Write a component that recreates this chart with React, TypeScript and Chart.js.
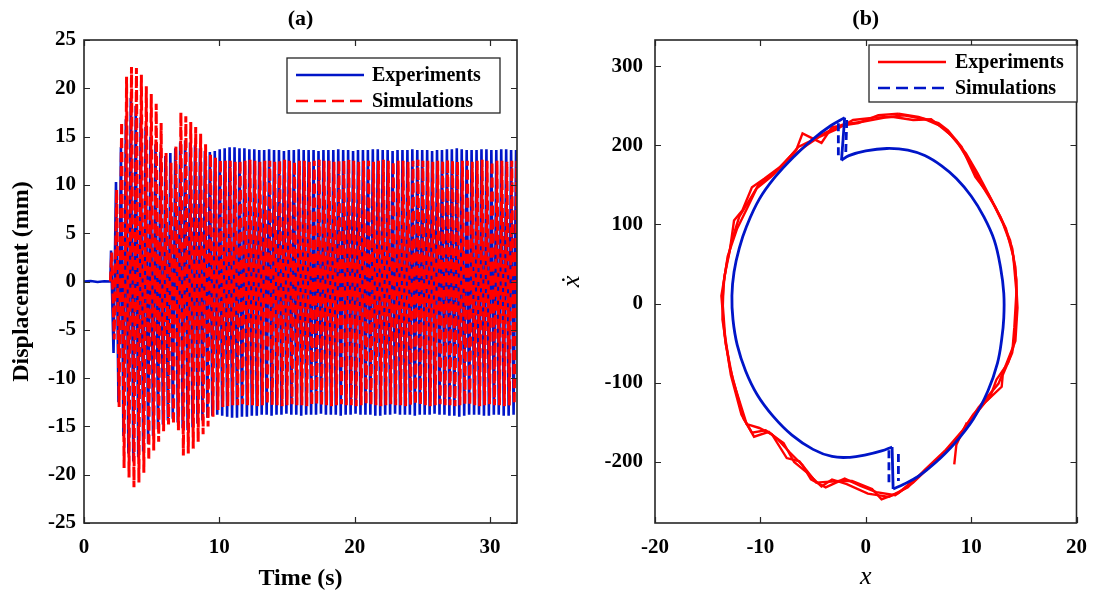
import React, { useEffect, useRef } from "react";
import { Chart, registerables } from "chart.js";
Chart.register(...registerables);

const FONT = '"Liberation Serif", "Times New Roman", serif';

// ---------- Panel (a): displacement vs time ----------
const PERIOD = 0.365; // s, oscillation period
const BLUE_START = 2.0;
const RED_START = 2.05;
const leadTimes = [0, 0.5, 1.0, 1.5, 1.95];
const blueLead = [0.0, 0.05, -0.05, 0.02, 0.0];

// peak (max) and trough (min) of each cycle, experiments (blue)
const blueMax = [3.2, 10.3, 13.9, 16.8, 19.0, 18.2, 17.0, 16.0, 15.0, 14.2,
  13.4, 13.0, 13.3, 13.8, 14.4, 14.6, 14.4, 14.1, 13.8, 13.5,
  13.4, 13.5, 13.7, 13.8, 13.9, 13.9, 13.8, 13.8, 13.7, 13.7,
  13.6, 13.6, 13.7, 13.6, 13.6, 13.5, 13.6, 13.6, 13.7, 13.6,
  13.6, 13.6, 13.5, 13.6, 13.6, 13.6, 13.7, 13.6, 13.6, 13.5,
  13.6, 13.6, 13.6, 13.7, 13.7, 13.6, 13.6, 13.5, 13.6, 13.6,
  13.6, 13.7, 13.6, 13.6, 13.6, 13.5, 13.6, 13.6, 13.7, 13.7,
  13.8, 13.7, 13.6, 13.6, 13.6, 13.7, 13.7, 13.6, 13.6, 13.7,
  13.7, 13.6, 13.6];
const blueMin = [-7.4, -12.5, -16.0, -17.8, -18.6, -18.2, -17.6, -16.8, -16.0, -15.3,
  -14.8, -14.4, -14.2, -14.6, -15.2, -15.4, -15.1, -14.7, -14.4, -14.1,
  -13.9, -13.8, -13.9, -14.0, -14.1, -14.1, -14.0, -14.0, -13.9, -13.9,
  -13.8, -13.8, -13.9, -13.8, -13.8, -13.7, -13.8, -13.8, -13.9, -13.8,
  -13.8, -13.8, -13.7, -13.8, -13.8, -13.8, -13.9, -13.8, -13.8, -13.7,
  -13.8, -13.8, -13.8, -13.9, -13.9, -13.8, -13.8, -13.7, -13.8, -13.8,
  -13.8, -13.9, -13.8, -13.8, -13.8, -13.7, -13.8, -13.8, -13.9, -13.9,
  -14.0, -13.9, -13.8, -13.8, -13.8, -13.9, -13.9, -13.8, -13.8, -13.9,
  -13.9, -13.8, -13.8];
// simulations (red)
const redMax = [3.0, 9.5, 16.5, 21.2, 22.2, 22.1, 21.4, 20.2, 19.4, 18.4,
  16.4, 13.3, 12.3, 14.0, 17.5, 17.1, 16.5, 16.0, 15.3, 14.2,
  13.2, 12.8, 12.6, 12.5, 12.5, 12.4, 12.5, 12.5, 12.6, 12.5,
  12.4, 12.5, 12.5, 12.4, 12.5, 12.6, 12.5, 12.4, 12.5, 12.5,
  12.4, 12.5, 12.6, 12.5, 12.5, 12.4, 12.5, 12.5, 12.6, 12.5,
  12.4, 12.5, 12.5, 12.4, 12.5, 12.6, 12.5, 12.4, 12.5, 12.5,
  12.4, 12.5, 12.6, 12.5, 12.5, 12.4, 12.5, 12.5, 12.6, 12.5,
  12.4, 12.5, 12.5, 12.4, 12.5, 12.6, 12.5, 12.4, 12.5, 12.5,
  12.4, 12.5, 12.5];
const redMin = [-6.0, -13.0, -19.3, -20.3, -21.3, -20.8, -19.8, -18.5, -17.5, -16.6,
  -15.5, -14.8, -14.8, -15.4, -18.0, -17.8, -17.3, -16.6, -15.8, -15.0,
  -14.0, -13.3, -13.0, -12.9, -12.8, -12.8, -12.7, -12.8, -12.8, -12.9,
  -12.8, -12.7, -12.8, -12.8, -12.9, -12.8, -12.7, -12.8, -12.8, -12.9,
  -12.8, -12.7, -12.8, -12.8, -12.9, -12.8, -12.7, -12.8, -12.8, -12.9,
  -12.8, -12.7, -12.8, -12.8, -12.9, -12.8, -12.7, -12.8, -12.8, -12.9,
  -12.8, -12.7, -12.8, -12.8, -12.9, -12.8, -12.7, -12.8, -12.8, -12.9,
  -12.8, -12.7, -12.8, -12.8, -12.9, -12.8, -12.7, -12.8, -12.8, -12.9,
  -12.8, -12.7, -12.8];

const yTicksA = [-25, -20, -15, -10, -5, 0, 5, 10, 15, 20, 25];
const xTicksA = [0, 10, 20, 30];
const xTicksB = [-20, -10, 0, 10, 20];
const yTicksB = [-200, -100, 0, 100, 200, 300];

// ---------- Panel (b): phase portrait ----------
// simulated limit cycle, split at the two velocity jumps
const simArcA: [number, number][] = [
  [-2.3, 181], [-1.6, 187], [0.0, 193], [2.0, 196], [4.0, 194], [5.6, 187],
  [7.2, 174], [8.6, 158], [10.0, 136], [11.2, 110], [12.2, 80], [12.8, 45], [13.1, 13],
  [13.1, -18], [12.9, -45], [12.5, -75], [11.6, -110], [10.2, -146], [8.4, -177],
  [6.6, -201], [5.0, -218], [3.6, -228], [2.6, -234],
];
const simJumpBottom: [number, number][] = [[2.6, -234], [2.5, -181]];
const simArcB: [number, number][] = [
  [2.5, -181], [1.5, -186], [0.0, -191], [-1.5, -194], [-3.2, -193], [-5.0, -184],
  [-7.0, -166], [-8.8, -142], [-10.3, -115], [-11.4, -85], [-12.2, -52], [-12.6, -20],
  [-12.7, 10], [-12.5, 40], [-12.0, 70], [-11.3, 98], [-10.1, 132], [-8.6, 160],
  [-6.8, 186], [-5.0, 208], [-3.3, 225], [-2.0, 235],
];
const simJumpTop: [number, number][] = [[-2.0, 235], [-2.3, 181]];
const simJumpTop1: [number, number][] = [[-2.6, 228], [-2.6, 185]];
const simJumpTop2: [number, number][] = [[-1.8, 232], [-1.9, 190]];
const simJumpBot1: [number, number][] = [[2.2, -185], [2.2, -228]];
const simJumpBot2: [number, number][] = [[3.1, -190], [3.1, -224]];

const expLoop1: [number, number][] = [
  [3.1, 240], [5.0, 236], [6.9, 228], [7.8, 219], [9.1, 198], [10.4, 160], [11.6, 139],
  [12.8, 109], [13.7, 80], [14.2, 46], [14.4, -5], [14.2, -47], [13.2, -81], [12.6, -101],
  [10.7, -131], [8.8, -169], [6.9, -195], [5.0, -218], [3.1, -239], [1.5, -247], [0.6, -234],
  [-1.3, -224], [-2.5, -224], [-4.7, -226], [-6.3, -199], [-7.5, -195], [-8.9, -165],
  [-10.1, -157], [-11.3, -152], [-12.6, -97], [-13.3, -50], [-13.6, 4], [-13.4, 35],
  [-12.9, 67], [-12.5, 105], [-11.7, 118], [-10.8, 147], [-9.6, 158], [-8.2, 172],
  [-6.6, 194], [-6.0, 215], [-4.2, 203], [-3.2, 223], [-0.7, 228], [1.2, 238], [3.1, 240],
];
const expLoop2: [number, number][] = [
  [2.5, 236], [4.5, 232], [6.2, 233], [8.0, 214], [9.5, 190], [10.6, 165], [11.9, 132],
  [13.0, 102], [13.9, 70], [14.3, 30], [14.3, -15], [14.0, -55], [13.5, -75], [12.4, -96],
  [11.8, -118], [10.2, -140], [9.2, -160], [7.5, -186], [5.6, -210], [4.0, -232], [2.2, -244],
  [0.2, -240], [-1.8, -228], [-3.2, -222], [-4.2, -231], [-5.6, -213], [-6.8, -200],
  [-7.8, -176], [-9.5, -160], [-10.8, -163], [-11.6, -145], [-12.9, -80], [-13.6, -20],
  [-13.5, 25], [-13.1, 60], [-12.2, 95], [-11.2, 122], [-10.2, 150], [-8.8, 163],
  [-7.4, 182], [-5.6, 200], [-4.5, 210], [-2.8, 220], [-1.2, 232], [0.8, 235], [2.5, 236],
];
const expLoop3: [number, number][] = [
  [3.6, 238], [5.6, 233], [7.2, 224], [8.6, 206], [9.8, 180], [11.0, 150], [12.3, 122],
  [13.3, 95], [14.0, 60], [14.3, 15], [14.1, -30], [13.9, -62], [13.0, -90], [12.9, -105],
  [11.3, -125], [9.8, -150], [8.2, -178], [6.3, -203], [4.5, -226], [2.8, -242], [1.0, -238],
  [-0.5, -230], [-2.0, -221], [-3.8, -232], [-5.2, -222], [-6.0, -204], [-7.2, -188],
  [-8.3, -172], [-9.2, -162], [-10.6, -168], [-11.8, -140], [-12.8, -90], [-13.4, -40],
  [-13.7, 10], [-13.2, 50], [-12.7, 80], [-12.0, 110], [-11.3, 125], [-10.4, 145],
  [-9.0, 160], [-7.7, 178], [-6.4, 198], [-5.3, 205], [-3.8, 216], [-2.2, 226],
  [-0.2, 230], [1.8, 235], [3.6, 238],
];
const expTail: [number, number][] = [[9.6, -150], [8.6, -178], [8.4, -203]];

const LABEL_EXP = "Experiments";
const LABEL_SIM = "Simulations";
const BLUE = "#0015c8";
const RED = "#ff0000";

function zigzag(start: number, maxs: number[], mins: number[]) {
  const pts: { x: number; y: number }[] = [];
  maxs.forEach((v, i) => {
    pts.push({ x: start + i * PERIOD, y: v });
    pts.push({ x: start + (i + 0.5) * PERIOD, y: mins[i] });
  });
  return pts;
}
const toXY = (arr: [number, number][]) => arr.map(([x, y]) => ({ x, y }));

const framePlugin = {
  id: "frame",
  afterDraw(chart: any, _args: any, opts: any) {
    const { ctx, chartArea: a } = chart;
    const sx = chart.scales.x;
    const sy = chart.scales.y;
    ctx.save();
    ctx.strokeStyle = "#262626";
    ctx.lineWidth = 1.2;
    ctx.beginPath();
    const T = 6;
    sx.ticks.forEach((t: any) => {
      const p = Math.round(sx.getPixelForValue(t.value)) + 0.5;
      ctx.moveTo(p, a.bottom);
      ctx.lineTo(p, a.bottom - T);
      ctx.moveTo(p, a.top);
      ctx.lineTo(p, a.top + T);
    });
    sy.ticks.forEach((t: any) => {
      const p = Math.round(sy.getPixelForValue(t.value)) + 0.5;
      ctx.moveTo(a.left, p);
      ctx.lineTo(a.left + T, p);
      ctx.moveTo(a.right, p);
      ctx.lineTo(a.right - T, p);
    });
    ctx.stroke();
    ctx.lineWidth = 1.6;
    ctx.strokeRect(a.left, a.top, a.right - a.left, a.bottom - a.top);
    ctx.fillStyle = "#000";
    ctx.font = `bold 22px ${FONT}`;
    ctx.textAlign = "center";
    ctx.textBaseline = "middle";
    ctx.fillText(opts.title, (a.left + a.right) / 2, 19);
    const L = opts.legend;
    ctx.fillStyle = "#fff";
    ctx.fillRect(L.x, L.y, L.w, L.h);
    ctx.strokeStyle = "#262626";
    ctx.lineWidth = 1.3;
    ctx.strokeRect(L.x, L.y, L.w, L.h);
    L.items.forEach((it: any, k: number) => {
      const yy = L.y + L.first + k * L.gap;
      ctx.strokeStyle = it.color;
      ctx.lineWidth = it.width;
      ctx.setLineDash(it.dash || []);
      ctx.beginPath();
      ctx.moveTo(L.x + L.lx0, yy);
      ctx.lineTo(L.x + L.lx1, yy);
      ctx.stroke();
      ctx.setLineDash([]);
      ctx.fillStyle = "#000";
      ctx.font = `bold 20px ${FONT}`;
      ctx.textAlign = "left";
      ctx.textBaseline = "middle";
      ctx.fillText(it.label, L.x + L.tx, yy + 1);
    });
    ctx.restore();
  },
};

const tickFont = { family: FONT, size: 21, weight: "bold" as const };
const titleFont = { family: FONT, size: 24, weight: "bold" as const };

function keepTicks(list: number[]) {
  return (s: any) => {
    s.ticks = list.map((v) => ({ value: v }));
  };
}

export default function App() {
  const refA = useRef<HTMLCanvasElement>(null);
  const refB = useRef<HTMLCanvasElement>(null);

  useEffect(() => {
    const blueData = [
      ...leadTimes.map((t, i) => ({ x: t, y: blueLead[i] })),
      ...zigzag(BLUE_START, blueMax, blueMin),
    ];
    const redData = [{ x: 1.95, y: 0 }, ...zigzag(RED_START, redMax, redMin)];

    const chartA = new Chart(refA.current as HTMLCanvasElement, {
      type: "line",
      data: {
        datasets: [
          {
            label: LABEL_SIM, data: redData, borderColor: RED, borderWidth: 3,
            borderDash: [10, 4], pointRadius: 0, tension: 0, order: 0,
          },
          {
            label: LABEL_EXP, data: blueData, borderColor: BLUE, borderWidth: 2.6,
            pointRadius: 0, tension: 0, order: 1,
          },
        ],
      },
      options: {
        animation: false,
        responsive: false,
        parsing: false,
        normalized: true,
        layout: { padding: { top: 40, right: 23, left: 0, bottom: 0 } },
        plugins: {
          legend: { display: false },
          tooltip: { enabled: false },
          frame: {
            title: "(a)",
            legend: {
              x: 287, y: 58, w: 213, h: 55, first: 17, gap: 26, lx0: 9, lx1: 77, tx: 85,
              items: [
                { label: LABEL_EXP, color: BLUE, width: 2.4 },
                { label: LABEL_SIM, color: RED, width: 2.4, dash: [12, 6] },
              ],
            },
          },
        } as any,
        scales: {
          x: {
            type: "linear", min: 0, max: 32,
            afterBuildTicks: keepTicks(xTicksA),
            afterFit: (s: any) => { s.height = 75; },
            grid: { display: false, drawTicks: false },
            border: { display: false },
            ticks: { color: "#000", font: tickFont, padding: 12, maxRotation: 0 },
            title: { display: true, text: "Time (s)", color: "#000", font: titleFont, padding: { top: 0, bottom: 5 } },
          },
          y: {
            type: "linear", min: -25, max: 25,
            afterBuildTicks: keepTicks(yTicksA),
            afterFit: (s: any) => { s.width = 84; },
            grid: { display: false, drawTicks: false },
            border: { display: false },
            ticks: { color: "#000", font: tickFont, padding: 8 },
            title: { display: true, text: "Displacement (mm)", color: "#000", font: titleFont, padding: { top: 7, bottom: 0 } },
          },
        },
      },
      plugins: [framePlugin as any],
    });

    const simSmooth = { borderColor: BLUE, borderWidth: 2.8, pointRadius: 0, tension: 0.4, order: 0 };
    const simStyle = { borderColor: BLUE, borderWidth: 2.8, pointRadius: 0, tension: 0, order: 0 };
    const expStyle = { borderColor: RED, borderWidth: 2.4, pointRadius: 0, tension: 0, order: 1 };
    const chartB = new Chart(refB.current as HTMLCanvasElement, {
      type: "line",
      data: {
        datasets: [
          { label: LABEL_SIM, data: toXY(simArcA), ...simSmooth },
          { label: LABEL_SIM, data: toXY(simJumpBottom), ...simStyle },
          { label: LABEL_SIM, data: toXY(simArcB), ...simSmooth },
          { label: LABEL_SIM, data: toXY(simJumpTop), ...simStyle },
          { label: LABEL_SIM, data: toXY(simJumpTop1), ...simStyle, borderDash: [8, 4] },
          { label: LABEL_SIM, data: toXY(simJumpTop2), ...simStyle, borderDash: [8, 4] },
          { label: LABEL_SIM, data: toXY(simJumpBot1), ...simStyle, borderDash: [8, 4] },
          { label: LABEL_SIM, data: toXY(simJumpBot2), ...simStyle, borderDash: [8, 4] },
          { label: LABEL_EXP, data: toXY(expLoop1), ...expStyle },
          { label: LABEL_EXP, data: toXY(expLoop2), ...expStyle },
          { label: LABEL_EXP, data: toXY(expLoop3), ...expStyle },
          { label: LABEL_EXP, data: toXY(expTail), ...expStyle },
        ],
      },
      options: {
        animation: false,
        responsive: false,
        parsing: false,
        layout: { padding: { top: 40, right: 20, left: 0, bottom: 0 } },
        plugins: {
          legend: { display: false },
          tooltip: { enabled: false },
          frame: {
            title: "(b)",
            legend: {
              x: 329, y: 45, w: 208, h: 57, first: 17, gap: 26, lx0: 9, lx1: 77, tx: 86,
              items: [
                { label: LABEL_EXP, color: RED, width: 2.4 },
                { label: LABEL_SIM, color: BLUE, width: 2.4, dash: [12, 6] },
              ],
            },
          },
        } as any,
        scales: {
          x: {
            type: "linear", min: -20, max: 20,
            afterBuildTicks: keepTicks(xTicksB),
            afterFit: (s: any) => { s.height = 75; },
            grid: { display: false, drawTicks: false },
            border: { display: false },
            ticks: { color: "#000", font: tickFont, padding: 12, maxRotation: 0 },
            title: { display: true, text: "x", color: "#000", font: { family: FONT, size: 26, style: "italic" }, padding: { top: 0, bottom: 5 } },
          },
          y: {
            type: "linear", min: -277, max: 333,
            afterBuildTicks: keepTicks(yTicksB),
            afterFit: (s: any) => { s.width = 115; },
            grid: { display: false, drawTicks: false },
            border: { display: false },
            ticks: { color: "#000", font: tickFont, padding: 12 },
            title: { display: true, text: "ẋ", color: "#000", font: { family: FONT, size: 26, style: "italic" }, padding: { top: 17, bottom: 0 } },
          },
        },
      },
      plugins: [framePlugin as any],
    });

    return () => {
      chartA.destroy();
      chartB.destroy();
    };
  }, []);

  return (
    <div style={{ position: "fixed", left: 0, top: 0, width: 1099, height: 598, background: "#fff" }}>
      <canvas ref={refA} width={540} height={598} style={{ position: "absolute", left: 0, top: 0 }} />
      <canvas ref={refB} width={559} height={598} style={{ position: "absolute", left: 540, top: 0 }} />
    </div>
  );
}
